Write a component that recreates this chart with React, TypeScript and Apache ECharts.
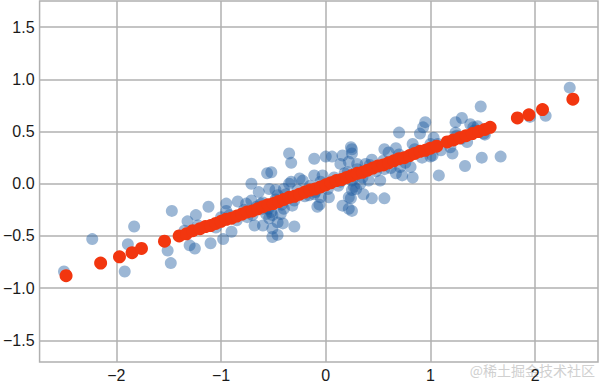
import React, { useEffect, useRef } from "react";
import * as echarts from "echarts";

// Original data points (blue)
const bluePoints: [number, number][] = [
  [-2.50, -0.84], [-2.23, -0.53], [-1.83, -0.41], [-1.89, -0.58], [-1.92, -0.84], [-1.47, -0.26],
  [-1.51, -0.64], [-1.48, -0.76], [-1.32, -0.36], [-1.24, -0.30], [-1.30, -0.59], [-1.25, -0.62],
  [-1.12, -0.22], [-1.10, -0.57], [-0.98, -0.53], [-0.90, -0.46],
  [-0.95, -0.19], [-0.84, -0.17], [-0.76, -0.19], [-0.95, -0.26], [-1.00, -0.32], [-0.71, -0.16],
  [-0.71, 0.00], [-0.56, 0.10], [-0.54, -0.05], [-0.64, -0.08], [-0.62, -0.19], [-0.57, -0.29],
  [-0.68, -0.40], [-0.60, -0.40], [-0.51, -0.43], [-0.46, -0.37], [-0.51, -0.51], [-0.54, -0.33],
  [-0.75, -0.32], [-0.60, -0.24], [-0.52, -0.27],
  [-0.35, 0.29], [-0.33, 0.20], [-0.11, 0.24], [0.00, 0.26], [0.06, 0.26], [0.16, 0.27], [0.24, 0.35],
  [0.22, 0.21], [0.30, 0.19], [-0.11, 0.08], [-0.03, 0.08], [-0.25, 0.05], [-0.33, 0.02], [-0.40, -0.05],
  [-0.48, -0.06], [-0.52, 0.11], [0.14, 0.02], [0.27, -0.03], [-0.11, -0.10], [-0.05, -0.13], [0.03, -0.13],
  [-0.06, -0.20], [0.22, -0.13], [0.16, -0.21], [0.22, -0.24], [-0.32, -0.21], [-0.40, -0.24], [-0.43, -0.29],
  [-0.41, -0.38], [-0.30, -0.41], [-0.51, -0.30], [-0.46, -0.49], [-0.16, -0.11], [-0.46, -0.11], [0.14, 0.19],
  [0.21, 0.11], [0.25, -0.06], [-0.08, -0.22], [-0.35, 0.00], [0.24, -0.14], [0.36, -0.10], [0.44, -0.14],
  [0.56, -0.14],
  [0.25, 0.29], [0.44, 0.23], [0.38, 0.19], [0.56, 0.33], [0.60, 0.30], [0.67, 0.34], [0.70, 0.49],
  [0.83, 0.38], [0.90, 0.48], [0.93, 0.54], [0.95, 0.59], [1.03, 0.44], [1.00, 0.26], [0.81, 0.16],
  [0.71, 0.16], [0.67, 0.10], [0.73, 0.08], [0.83, 0.06], [0.56, 0.14], [0.52, 0.03], [0.41, 0.03],
  [0.33, 0.00], [0.29, -0.05], [0.25, -0.26], [1.08, 0.08], [-0.22, 0.03], [0.25, 0.33],
  [1.02, 0.27], [1.21, 0.29], [1.33, 0.17], [1.49, 0.25], [1.67, 0.26], [1.19, 0.35], [1.24, 0.49],
  [1.24, 0.59], [1.30, 0.63], [1.48, 0.74], [1.41, 0.54], [1.51, 0.48], [1.38, 0.57], [1.42, 0.51],
  [1.29, 0.43], [1.95, 0.64], [2.10, 0.65], [2.33, 0.92], [1.07, 0.38],
  [-1.35, -0.45], [-1.22, -0.40], [-1.05, -0.42], [-0.92, -0.30], [-0.85, -0.35], [-0.78, -0.25],
  [-0.70, -0.30], [-0.66, -0.22], [-0.60, -0.18], [-0.55, -0.24], [-0.48, -0.15], [-0.42, -0.20],
  [-0.38, -0.10], [-0.30, -0.16], [-0.27, -0.06], [-0.20, -0.12], [-0.15, -0.02], [-0.10, -0.08],
  [-0.05, 0.02], [0.02, -0.05], [0.08, 0.06], [0.12, -0.02], [0.18, 0.10], [0.25, 0.03], [0.30, 0.14],
  [0.35, 0.06], [0.42, 0.18], [0.48, 0.12], [0.55, 0.22], [0.62, 0.15], [0.70, 0.28], [0.76, 0.20],
  [0.85, 0.33], [0.92, 0.25], [1.00, 0.38], [1.10, 0.32], [1.25, 0.46], [1.35, 0.40], [1.45, 0.55],
  [1.52, 0.47],
];

// Projected points (red)
const redPoints: [number, number][] = [
  [-2.48, -0.88], [-2.15, -0.76], [-1.97, -0.70], [-1.85, -0.66], [-1.76, -0.62], [-1.54, -0.55],
  [-1.40, -0.50], [-1.33, -0.48], [-1.27, -0.45], [-1.20, -0.43], [-1.15, -0.41], [-1.10, -0.40],
  [-1.05, -0.38], [-1.00, -0.36], [-0.95, -0.34], [-0.90, -0.33], [-0.85, -0.31], [-0.80, -0.29],
  [-0.75, -0.27], [-0.70, -0.26], [-0.65, -0.24], [-0.60, -0.22], [-0.55, -0.20], [-0.50, -0.19],
  [-0.45, -0.17], [-0.40, -0.15], [-0.35, -0.13], [-0.30, -0.12], [-0.25, -0.10], [-0.20, -0.08],
  [-0.15, -0.06], [-0.10, -0.05], [-0.05, -0.03], [0.00, -0.01], [0.05, 0.01], [0.10, 0.03],
  [0.15, 0.04], [0.20, 0.06], [0.25, 0.08], [0.30, 0.10], [0.35, 0.11], [0.40, 0.13], [0.45, 0.15],
  [0.50, 0.17], [0.55, 0.18], [0.60, 0.20], [0.65, 0.22], [0.70, 0.24], [0.75, 0.25], [0.80, 0.27],
  [0.85, 0.29], [0.90, 0.31], [0.95, 0.32], [1.00, 0.34], [1.06, 0.36],
  [1.16, 0.40], [1.22, 0.42], [1.28, 0.44], [1.34, 0.46], [1.40, 0.48], [1.46, 0.50], [1.52, 0.52],
  [1.57, 0.54],
  [1.83, 0.63], [1.94, 0.66], [2.07, 0.71], [2.36, 0.81],
];

const xTicks = [-2, -1, 0, 1, 2];
const yTicks = [-1.5, -1.0, -0.5, 0.0, 0.5, 1.0, 1.5];
const xRange = [-2.733, 2.6];
const yRange = [-1.707, 1.75];
const watermark = "@稀土掘金技术社区";

const fmt = (v: number, digits: number) => {
  const s = Math.abs(v).toFixed(digits);
  return v < 0 ? "\u2212" + s : s;
};

export default function App() {
  const ref = useRef<HTMLDivElement>(null);
  useEffect(() => {
    if (!ref.current) return;
    const chart = echarts.init(ref.current, null, { renderer: "svg" });
    const gridColor = "#b0b0b0";
    const labelStyle = {
      color: "#1a1a1a",
      fontSize: 16,
      fontFamily: "Liberation Sans, Arial, sans-serif",
    };
    chart.setOption({
      animation: false,
      backgroundColor: "#ffffff",
      grid: {
        left: 38,
        right: 2,
        top: 1,
        bottom: 19,
        show: true,
        borderColor: gridColor,
        borderWidth: 1.5,
        backgroundColor: "transparent",
      },
      xAxis: {
        type: "value",
        min: xRange[0],
        max: xRange[1],
        axisLine: { show: false },
        axisTick: { show: false, customValues: xTicks },
        axisLabel: {
          ...labelStyle,
          customValues: xTicks,
          margin: 5,
          formatter: (v: number) => fmt(v, 0),
        },
        splitLine: { show: true, lineStyle: { color: gridColor, width: 1.5 } },
      },
      yAxis: {
        type: "value",
        min: yRange[0],
        max: yRange[1],
        axisLine: { show: false },
        axisTick: { show: false, customValues: yTicks },
        axisLabel: {
          ...labelStyle,
          customValues: yTicks,
          margin: 5,
          formatter: (v: number) => fmt(v, 1),
        },
        splitLine: { show: true, lineStyle: { color: gridColor, width: 1.5 } },
      },
      series: [
        {
          type: "scatter",
          data: bluePoints,
          symbolSize: 12,
          itemStyle: { color: "rgba(30,90,160,0.55)" },
          silent: true,
        },
        {
          type: "scatter",
          data: redPoints,
          symbolSize: 13,
          itemStyle: { color: "#f2360f", opacity: 1 },
          silent: true,
        },
      ],
      graphic: [
        {
          type: "text",
          right: 5,
          top: 363,
          silent: true,
          style: {
            text: watermark,
            fill: "#d0d0d0",
            fontSize: 14,
            fontFamily: "Noto Sans CJK SC, sans-serif",
          },
        },
      ],
    });
    return () => chart.dispose();
  }, []);
  return (
    <div
      ref={ref}
      style={{ position: "absolute", left: 0, top: 0, width: 600, height: 383 }}
    />
  );
}
